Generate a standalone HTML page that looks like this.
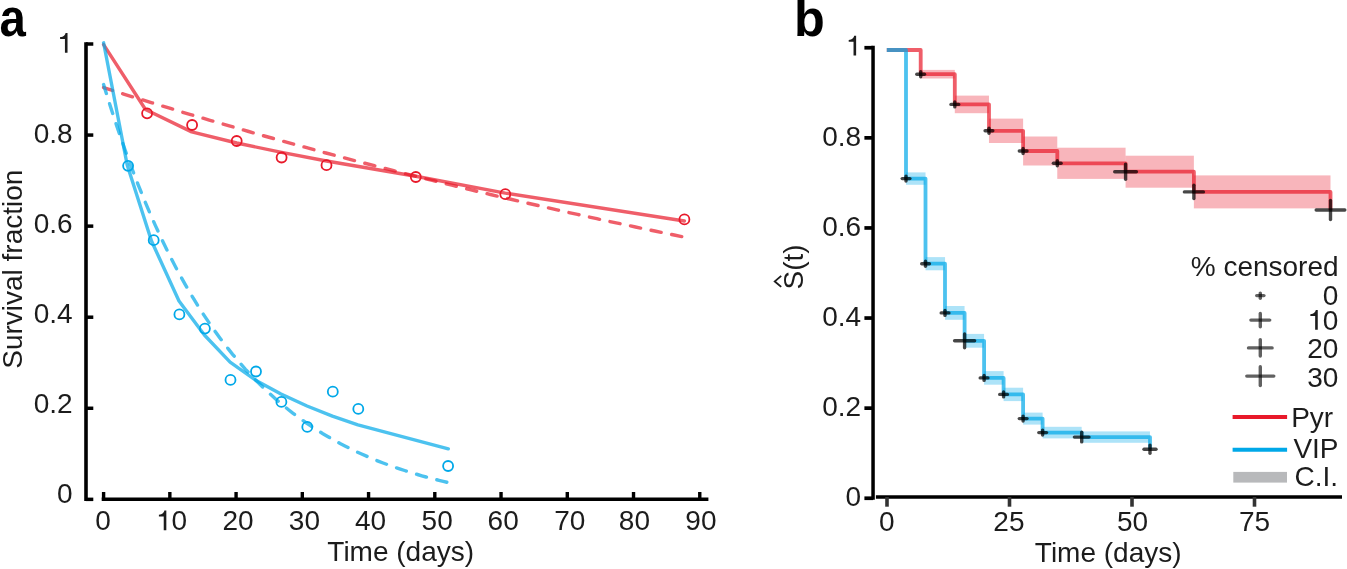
<!DOCTYPE html>
<html><head><meta charset="utf-8"><style>
html,body{margin:0;padding:0;background:#fff;}
svg{display:block;will-change:transform;}
text{font-family:"Liberation Sans",sans-serif;}
</style></head><body>
<svg width="1347" height="569" viewBox="0 0 1347 569">
<rect width="1347" height="569" fill="#fff"/>
<text transform="translate(-0.4,36) scale(0.91,1)" font-size="52" font-weight="bold" fill="#000">a</text>
<line x1="86.0" y1="42.2" x2="86.0" y2="501.1" stroke="#000" stroke-width="3.6" />
<line x1="86.0" y1="44.0" x2="93.3" y2="44.0" stroke="#000" stroke-width="3.5" />
<line x1="86.0" y1="135.07" x2="93.3" y2="135.07" stroke="#000" stroke-width="3.5" />
<line x1="86.0" y1="226.14" x2="93.3" y2="226.14" stroke="#000" stroke-width="3.5" />
<line x1="86.0" y1="317.21" x2="93.3" y2="317.21" stroke="#000" stroke-width="3.5" />
<line x1="86.0" y1="408.28" x2="93.3" y2="408.28" stroke="#000" stroke-width="3.5" />
<line x1="86.0" y1="499.34999999999997" x2="93.3" y2="499.34999999999997" stroke="#000" stroke-width="3.5" />
<path d="M67.53,52.70V32.90H65.57C65.15,34.78 63.75,36.88 60.11,37.10V38.98H64.93V52.70Z" fill="#1c1c1c"/>
<text x="72.6" y="142.76" font-size="28" text-anchor="end" fill="#1c1c1c" >0.8</text>
<text x="72.6" y="232.82" font-size="28" text-anchor="end" fill="#1c1c1c" >0.6</text>
<text x="72.6" y="322.88" font-size="28" text-anchor="end" fill="#1c1c1c" >0.4</text>
<text x="72.6" y="412.94" font-size="28" text-anchor="end" fill="#1c1c1c" >0.2</text>
<text x="72.6" y="503.0" font-size="28" text-anchor="end" fill="#1c1c1c" >0</text>
<line x1="101.7" y1="499.35" x2="708.4" y2="499.35" stroke="#000" stroke-width="3.5" />
<line x1="103.6" y1="492" x2="103.6" y2="499.35" stroke="#000" stroke-width="3.4" />
<line x1="169.83999999999997" y1="492" x2="169.83999999999997" y2="499.35" stroke="#000" stroke-width="3.4" />
<line x1="236.07999999999998" y1="492" x2="236.07999999999998" y2="499.35" stroke="#000" stroke-width="3.4" />
<line x1="302.31999999999994" y1="492" x2="302.31999999999994" y2="499.35" stroke="#000" stroke-width="3.4" />
<line x1="368.55999999999995" y1="492" x2="368.55999999999995" y2="499.35" stroke="#000" stroke-width="3.4" />
<line x1="434.79999999999995" y1="492" x2="434.79999999999995" y2="499.35" stroke="#000" stroke-width="3.4" />
<line x1="501.03999999999996" y1="492" x2="501.03999999999996" y2="499.35" stroke="#000" stroke-width="3.4" />
<line x1="567.28" y1="492" x2="567.28" y2="499.35" stroke="#000" stroke-width="3.4" />
<line x1="633.52" y1="492" x2="633.52" y2="499.35" stroke="#000" stroke-width="3.4" />
<line x1="699.76" y1="492" x2="699.76" y2="499.35" stroke="#000" stroke-width="3.4" />
<text x="103" y="530.3" font-size="28" text-anchor="middle" fill="#1c1c1c" >0</text>
<path d="M166.33,530.30V510.50H164.37C163.95,512.38 162.55,514.48 158.91,514.70V516.58H163.73V530.30Z" fill="#1c1c1c"/>
<text x="171.40" y="530.3" font-size="28" fill="#1c1c1c">0</text>
<text x="238" y="530.3" font-size="28" text-anchor="middle" fill="#1c1c1c" >20</text>
<text x="304.4" y="530.3" font-size="28" text-anchor="middle" fill="#1c1c1c" >30</text>
<text x="370.5" y="530.3" font-size="28" text-anchor="middle" fill="#1c1c1c" >40</text>
<text x="437.2" y="530.3" font-size="28" text-anchor="middle" fill="#1c1c1c" >50</text>
<text x="503.2" y="530.3" font-size="28" text-anchor="middle" fill="#1c1c1c" >60</text>
<text x="569.8" y="530.3" font-size="28" text-anchor="middle" fill="#1c1c1c" >70</text>
<text x="634.4" y="530.3" font-size="28" text-anchor="middle" fill="#1c1c1c" >80</text>
<text x="700.9" y="530.3" font-size="28" text-anchor="middle" fill="#1c1c1c" >90</text>
<text x="400.7" y="561.1" font-size="28" text-anchor="middle" fill="#1c1c1c" >Time (days)</text>
<text transform="translate(22.4,269.2) rotate(-90)" font-size="28" text-anchor="middle" fill="#1c1c1c">Survival fraction</text>
<polyline points="103.6,44.6 145.5,109.5 191.7,131.9 236.7,143.0 281.6,152.4 326.5,161.0 415.8,176.3 505.3,193.1 684.4,221.0" fill="none" stroke="#e8192a" stroke-width="3.4" stroke-opacity="0.7" stroke-linejoin="round" stroke-linecap="round"/>
<polyline points="103.6,87.6 113.3,90.7 122.9,93.8 132.6,96.8 142.3,99.8 152.0,102.8 161.6,105.8 171.3,108.7 181.0,111.7 190.6,114.6 200.3,117.4 210.0,120.3 219.7,123.1 229.3,125.9 239.0,128.7 248.7,131.5 258.3,134.3 268.0,137.0 277.7,139.7 287.3,142.4 297.0,145.1 306.7,147.7 316.4,150.4 326.0,153.0 335.7,155.6 345.4,158.1 355.0,160.7 364.7,163.2 374.4,165.7 384.1,168.2 393.7,170.7 403.4,173.2 413.1,175.6 422.7,178.0 432.4,180.4 442.1,182.8 451.8,185.2 461.4,187.5 471.1,189.9 480.8,192.2 490.4,194.5 500.1,196.8 509.8,199.0 519.5,201.3 529.1,203.5 538.8,205.7 548.5,207.9 558.1,210.1 567.8,212.3 577.5,214.4 587.2,216.6 596.8,218.7 606.5,220.8 616.2,222.9 625.8,224.9 635.5,227.0 645.2,229.0 654.8,231.0 664.5,233.0 674.2,235.0 683.9,237.0" fill="none" stroke="#e8192a" stroke-width="3.4" stroke-opacity="0.7" stroke-dasharray="10.3 10.7" stroke-dashoffset="1" stroke-linecap="round"/>
<polyline points="103.6,42.8 127.2,165.0 151.5,241.0 179.0,301.0 204.4,335.0 230.1,362.1 255.6,380.2 281.0,394.0 307.0,406.0 332.4,416.1 357.9,424.9 448.3,448.8" fill="none" stroke="#00a8e8" stroke-width="3.4" stroke-opacity="0.7" stroke-linejoin="round" stroke-linecap="round"/>
<polyline points="103.6,84.6 107.9,98.5 112.2,112.0 116.5,125.1 120.8,137.7 125.1,150.0 129.4,161.8 133.7,173.2 138.0,184.3 142.3,195.0 146.6,205.4 150.9,215.4 155.2,225.1 159.5,234.4 163.8,243.5 168.1,252.3 172.4,260.8 176.7,269.0 181.0,276.9 185.3,284.6 189.6,292.0 193.9,299.2 198.2,306.2 202.5,312.9 206.8,319.4 211.1,325.7 215.4,331.8 219.7,337.7 224.0,343.4 228.3,348.9 232.6,354.3 236.9,359.4 241.2,364.4 245.5,369.3 249.8,373.9 254.1,378.5 258.4,382.8 262.7,387.1 267.0,391.2 271.3,395.1 275.6,398.9 279.9,402.7 284.2,406.2 288.5,409.7 292.8,413.1 297.1,416.3 301.4,419.4 305.7,422.5 310.0,425.4 314.3,428.3 318.6,431.0 322.9,433.7 327.2,436.2 331.5,438.7 335.8,441.1 340.1,443.5 344.4,445.7 348.7,447.9 353.0,450.0 357.3,452.1 361.6,454.0 365.9,455.9 370.2,457.8 374.5,459.6 378.8,461.3 383.1,463.0 387.4,464.6 391.7,466.1 396.0,467.7 400.3,469.1 404.6,470.5 408.9,471.9 413.2,473.2 417.5,474.5 421.8,475.8 426.1,477.0 430.4,478.1 434.7,479.2 439.0,480.3 443.3,481.4 447.6,482.4" fill="none" stroke="#00a8e8" stroke-width="3.4" stroke-opacity="0.7" stroke-dasharray="10.3 10.7" stroke-dashoffset="1" stroke-linecap="round"/>
<circle cx="147.1" cy="113.3" r="5" fill="none" stroke="#e8192a" stroke-width="1.8"/>
<circle cx="192.1" cy="125" r="5" fill="none" stroke="#e8192a" stroke-width="1.8"/>
<circle cx="236.7" cy="141" r="5" fill="none" stroke="#e8192a" stroke-width="1.8"/>
<circle cx="281.6" cy="157.5" r="5" fill="none" stroke="#e8192a" stroke-width="1.8"/>
<circle cx="326.5" cy="165.2" r="5" fill="none" stroke="#e8192a" stroke-width="1.8"/>
<circle cx="415.8" cy="177" r="5" fill="none" stroke="#e8192a" stroke-width="1.8"/>
<circle cx="505.3" cy="194.2" r="5" fill="none" stroke="#e8192a" stroke-width="1.8"/>
<circle cx="684.4" cy="219.4" r="5" fill="none" stroke="#e8192a" stroke-width="1.8"/>
<circle cx="128.1" cy="165.8" r="5" fill="none" stroke="#00a8e8" stroke-width="1.8"/>
<circle cx="153.7" cy="240.2" r="5" fill="none" stroke="#00a8e8" stroke-width="1.8"/>
<circle cx="179.4" cy="314.4" r="5" fill="none" stroke="#00a8e8" stroke-width="1.8"/>
<circle cx="204.9" cy="328.6" r="5" fill="none" stroke="#00a8e8" stroke-width="1.8"/>
<circle cx="230.5" cy="379.9" r="5" fill="none" stroke="#00a8e8" stroke-width="1.8"/>
<circle cx="256.0" cy="371.5" r="5" fill="none" stroke="#00a8e8" stroke-width="1.8"/>
<circle cx="281.4" cy="401.9" r="5" fill="none" stroke="#00a8e8" stroke-width="1.8"/>
<circle cx="307.3" cy="426.9" r="5" fill="none" stroke="#00a8e8" stroke-width="1.8"/>
<circle cx="332.8" cy="391.7" r="5" fill="none" stroke="#00a8e8" stroke-width="1.8"/>
<circle cx="358.3" cy="408.9" r="5" fill="none" stroke="#00a8e8" stroke-width="1.8"/>
<circle cx="448.1" cy="466.0" r="5" fill="none" stroke="#00a8e8" stroke-width="1.8"/>
<text transform="translate(794,36.3) scale(0.97,0.99)" font-size="52" font-weight="bold" fill="#000">b</text>
<line x1="873.05" y1="45.8" x2="873.05" y2="499.8" stroke="#000" stroke-width="3.5" />
<line x1="864.4" y1="47.75" x2="873.05" y2="47.75" stroke="#000" stroke-width="3.7" />
<line x1="864.4" y1="137.85" x2="873.05" y2="137.85" stroke="#000" stroke-width="3.7" />
<line x1="864.4" y1="227.95" x2="873.05" y2="227.95" stroke="#000" stroke-width="3.7" />
<line x1="864.4" y1="318.04999999999995" x2="873.05" y2="318.04999999999995" stroke="#000" stroke-width="3.7" />
<line x1="864.4" y1="408.15" x2="873.05" y2="408.15" stroke="#000" stroke-width="3.7" />
<line x1="864.4" y1="498.25" x2="873.05" y2="498.25" stroke="#000" stroke-width="3.7" />
<path d="M856.13,55.50V35.70H854.17C853.75,37.58 852.35,39.68 848.71,39.90V41.78H853.53V55.50Z" fill="#1c1c1c"/>
<text x="861.2" y="145.6" font-size="28" text-anchor="end" fill="#1c1c1c" >0.8</text>
<text x="861.2" y="235.7" font-size="28" text-anchor="end" fill="#1c1c1c" >0.6</text>
<text x="861.2" y="325.79999999999995" font-size="28" text-anchor="end" fill="#1c1c1c" >0.4</text>
<text x="861.2" y="415.9" font-size="28" text-anchor="end" fill="#1c1c1c" >0.2</text>
<text x="861.2" y="506.0" font-size="28" text-anchor="end" fill="#1c1c1c" >0</text>
<line x1="875.9" y1="497" x2="1342" y2="497" stroke="#000" stroke-width="3.5" />
<line x1="887.0" y1="497" x2="887.0" y2="506.7" stroke="#333" stroke-width="3.6" />
<line x1="1009.5" y1="497" x2="1009.5" y2="506.7" stroke="#333" stroke-width="3.6" />
<line x1="1132.0" y1="497" x2="1132.0" y2="506.7" stroke="#333" stroke-width="3.6" />
<line x1="1254.5" y1="497" x2="1254.5" y2="506.7" stroke="#333" stroke-width="3.6" />
<text x="886.8" y="530.7" font-size="28" text-anchor="middle" fill="#1c1c1c" >0</text>
<text x="1008.9" y="530.7" font-size="28" text-anchor="middle" fill="#1c1c1c" >25</text>
<text x="1132.5" y="530.7" font-size="28" text-anchor="middle" fill="#1c1c1c" >50</text>
<text x="1254.5" y="530.7" font-size="28" text-anchor="middle" fill="#1c1c1c" >75</text>
<text x="1108.2" y="562.3" font-size="28" text-anchor="middle" fill="#1c1c1c" >Time (days)</text>
<text transform="translate(802.6,267) rotate(-90)" font-size="28" text-anchor="middle" fill="#1c1c1c">S(t)</text>
<path d="M781.2,275.9 L774.8,281.4 L781.2,286.9" fill="none" stroke="#1c1c1c" stroke-width="1.9"/>
<rect x="920.653" y="69.9" width="34.15300000000002" height="8.6" fill="#e8192a" fill-opacity="0.32"/>
<rect x="954.806" y="95.60000000000001" width="34.152999999999906" height="17.6" fill="#e8192a" fill-opacity="0.32"/>
<rect x="988.959" y="118.60000000000001" width="34.15300000000002" height="24.4" fill="#e8192a" fill-opacity="0.32"/>
<rect x="1023.112" y="136.5" width="34.152999999999906" height="29.0" fill="#e8192a" fill-opacity="0.32"/>
<rect x="1057.2649999999999" y="147.70000000000002" width="68.30600000000004" height="31.2" fill="#e8192a" fill-opacity="0.32"/>
<rect x="1125.571" y="155.7" width="68.30600000000004" height="32" fill="#e8192a" fill-opacity="0.32"/>
<rect x="1193.877" y="175.4" width="136.61200000000008" height="33.0" fill="#e8192a" fill-opacity="0.32"/>
<rect x="906.016" y="172.4" width="19.516000000000076" height="12.4" fill="#00a8e8" fill-opacity="0.32"/>
<rect x="925.532" y="257.09999999999997" width="19.515999999999963" height="13.2" fill="#00a8e8" fill-opacity="0.32"/>
<rect x="945.048" y="306.0" width="19.515999999999963" height="13.8" fill="#00a8e8" fill-opacity="0.32"/>
<rect x="964.564" y="333.90000000000003" width="19.515999999999963" height="13.8" fill="#00a8e8" fill-opacity="0.32"/>
<rect x="984.0799999999999" y="371.09999999999997" width="19.516000000000076" height="13.6" fill="#00a8e8" fill-opacity="0.32"/>
<rect x="1003.596" y="387.7" width="19.515999999999963" height="13.4" fill="#00a8e8" fill-opacity="0.32"/>
<rect x="1023.112" y="412.6" width="19.515999999999963" height="12" fill="#00a8e8" fill-opacity="0.32"/>
<rect x="1042.628" y="426.8" width="39.031999999999925" height="11.6" fill="#00a8e8" fill-opacity="0.32"/>
<rect x="1081.6599999999999" y="431.40000000000003" width="68.30600000000004" height="11.4" fill="#00a8e8" fill-opacity="0.32"/>
<polyline points="886.8,50.0 920.7,50.0 920.7,74.2 954.8,74.2 954.8,104.4 989.0,104.4 989.0,130.8 1023.1,130.8 1023.1,151.0 1057.3,151.0 1057.3,163.3 1125.6,163.3 1125.6,171.7 1193.9,171.7 1193.9,191.9 1330.5,191.9 1330.5,210.0" fill="none" stroke="#e8192a" stroke-width="3.8" stroke-opacity="0.7" stroke-linejoin="round"/>
<polyline points="886.8,50.0 906.0,50.0 906.0,178.6 925.5,178.6 925.5,263.7 945.0,263.7 945.0,312.9 964.6,312.9 964.6,340.8 984.1,340.8 984.1,377.9 1003.6,377.9 1003.6,394.4 1023.1,394.4 1023.1,418.6 1042.6,418.6 1042.6,432.6 1081.7,432.6 1081.7,437.1 1150.0,437.1 1150.0,449.2" fill="none" stroke="#00a8e8" stroke-width="3.8" stroke-opacity="0.7" stroke-linejoin="round"/>
<path d="M916.8,74.2H924.5" stroke="#000" stroke-opacity="0.72" stroke-width="3.4" stroke-linecap="round" fill="none"/>
<path d="M920.7,71.7V76.7" stroke="#000" stroke-opacity="0.72" stroke-width="3.4" stroke-linecap="round" fill="none"/>
<path d="M951.0,104.4H958.7" stroke="#000" stroke-opacity="0.72" stroke-width="3.4" stroke-linecap="round" fill="none"/>
<path d="M954.8,101.9V106.9" stroke="#000" stroke-opacity="0.72" stroke-width="3.4" stroke-linecap="round" fill="none"/>
<path d="M985.1,130.8H992.8" stroke="#000" stroke-opacity="0.72" stroke-width="3.4" stroke-linecap="round" fill="none"/>
<path d="M989.0,128.3V133.3" stroke="#000" stroke-opacity="0.72" stroke-width="3.4" stroke-linecap="round" fill="none"/>
<path d="M1019.3,151H1027.0" stroke="#000" stroke-opacity="0.72" stroke-width="3.4" stroke-linecap="round" fill="none"/>
<path d="M1023.1,148.5V153.5" stroke="#000" stroke-opacity="0.72" stroke-width="3.4" stroke-linecap="round" fill="none"/>
<path d="M1053.4,163.3H1061.1" stroke="#000" stroke-opacity="0.72" stroke-width="3.4" stroke-linecap="round" fill="none"/>
<path d="M1057.3,160.8V165.8" stroke="#000" stroke-opacity="0.72" stroke-width="3.4" stroke-linecap="round" fill="none"/>
<path d="M1114.7,171.7H1136.4" stroke="#000" stroke-opacity="0.72" stroke-width="3.4" stroke-linecap="round" fill="none"/>
<path d="M1125.6,164.1V179.3" stroke="#000" stroke-opacity="0.72" stroke-width="3.4" stroke-linecap="round" fill="none"/>
<path d="M1184.4,191.9H1203.4" stroke="#000" stroke-opacity="0.72" stroke-width="3.4" stroke-linecap="round" fill="none"/>
<path d="M1193.9,185.2V198.6" stroke="#000" stroke-opacity="0.72" stroke-width="3.4" stroke-linecap="round" fill="none"/>
<path d="M1316.2,210H1344.8" stroke="#000" stroke-opacity="0.72" stroke-width="3.4" stroke-linecap="round" fill="none"/>
<path d="M1330.5,200.5V219.5" stroke="#000" stroke-opacity="0.72" stroke-width="3.4" stroke-linecap="round" fill="none"/>
<path d="M902.2,178.6H909.9" stroke="#000" stroke-opacity="0.72" stroke-width="3.4" stroke-linecap="round" fill="none"/>
<path d="M906.0,176.1V181.1" stroke="#000" stroke-opacity="0.72" stroke-width="3.4" stroke-linecap="round" fill="none"/>
<path d="M921.7,263.7H929.4" stroke="#000" stroke-opacity="0.72" stroke-width="3.4" stroke-linecap="round" fill="none"/>
<path d="M925.5,261.2V266.2" stroke="#000" stroke-opacity="0.72" stroke-width="3.4" stroke-linecap="round" fill="none"/>
<path d="M941.2,312.9H948.9" stroke="#000" stroke-opacity="0.72" stroke-width="3.4" stroke-linecap="round" fill="none"/>
<path d="M945.0,310.4V315.4" stroke="#000" stroke-opacity="0.72" stroke-width="3.4" stroke-linecap="round" fill="none"/>
<path d="M954.6,340.8H974.6" stroke="#000" stroke-opacity="0.72" stroke-width="3.4" stroke-linecap="round" fill="none"/>
<path d="M964.6,333.9V347.7" stroke="#000" stroke-opacity="0.72" stroke-width="3.4" stroke-linecap="round" fill="none"/>
<path d="M980.2,377.9H987.9" stroke="#000" stroke-opacity="0.72" stroke-width="3.4" stroke-linecap="round" fill="none"/>
<path d="M984.1,375.4V380.4" stroke="#000" stroke-opacity="0.72" stroke-width="3.4" stroke-linecap="round" fill="none"/>
<path d="M999.7,394.4H1007.4" stroke="#000" stroke-opacity="0.72" stroke-width="3.4" stroke-linecap="round" fill="none"/>
<path d="M1003.6,391.9V396.9" stroke="#000" stroke-opacity="0.72" stroke-width="3.4" stroke-linecap="round" fill="none"/>
<path d="M1019.3,418.6H1027.0" stroke="#000" stroke-opacity="0.72" stroke-width="3.4" stroke-linecap="round" fill="none"/>
<path d="M1023.1,416.1V421.1" stroke="#000" stroke-opacity="0.72" stroke-width="3.4" stroke-linecap="round" fill="none"/>
<path d="M1038.8,432.6H1046.5" stroke="#000" stroke-opacity="0.72" stroke-width="3.4" stroke-linecap="round" fill="none"/>
<path d="M1042.6,430.1V435.1" stroke="#000" stroke-opacity="0.72" stroke-width="3.4" stroke-linecap="round" fill="none"/>
<path d="M1074.4,437.1H1089.0" stroke="#000" stroke-opacity="0.72" stroke-width="3.4" stroke-linecap="round" fill="none"/>
<path d="M1081.7,432.3V441.9" stroke="#000" stroke-opacity="0.72" stroke-width="3.4" stroke-linecap="round" fill="none"/>
<path d="M1144.0,449.2H1156.0" stroke="#000" stroke-opacity="0.72" stroke-width="3.4" stroke-linecap="round" fill="none"/>
<path d="M1150.0,445.1V453.3" stroke="#000" stroke-opacity="0.72" stroke-width="3.4" stroke-linecap="round" fill="none"/>
<text x="1338.6" y="275.5" font-size="28" text-anchor="end" fill="#1c1c1c" >% censored</text>
<path d="M1256.7,295.6H1263.9" stroke="#000" stroke-opacity="0.62" stroke-width="3.4" stroke-linecap="round" fill="none"/>
<path d="M1260.3,293.1V298.2" stroke="#000" stroke-opacity="0.62" stroke-width="3.4" stroke-linecap="round" fill="none"/>
<text x="1338.4" y="304.5" font-size="28" text-anchor="end" fill="#1c1c1c" >0</text>
<path d="M1250.9,320.1H1269.7" stroke="#000" stroke-opacity="0.62" stroke-width="3.4" stroke-linecap="round" fill="none"/>
<path d="M1260.3,313.4V326.8" stroke="#000" stroke-opacity="0.62" stroke-width="3.4" stroke-linecap="round" fill="none"/>
<path d="M1317.76,329.80V310.00H1315.80C1315.38,311.88 1313.98,313.98 1310.34,314.20V316.08H1315.16V329.80Z" fill="#1c1c1c"/>
<text x="1322.83" y="329.8" font-size="28" fill="#1c1c1c">0</text>
<path d="M1248.5,347.9H1272.1" stroke="#000" stroke-opacity="0.62" stroke-width="3.4" stroke-linecap="round" fill="none"/>
<path d="M1260.3,339.6V356.1" stroke="#000" stroke-opacity="0.62" stroke-width="3.4" stroke-linecap="round" fill="none"/>
<text x="1338.4" y="358" font-size="28" text-anchor="end" fill="#1c1c1c" >20</text>
<path d="M1246.8,376.1H1273.8" stroke="#000" stroke-opacity="0.62" stroke-width="3.4" stroke-linecap="round" fill="none"/>
<path d="M1260.3,366.7V385.5" stroke="#000" stroke-opacity="0.62" stroke-width="3.4" stroke-linecap="round" fill="none"/>
<text x="1338.4" y="387.4" font-size="28" text-anchor="end" fill="#1c1c1c" >30</text>
<line x1="1232.6" y1="416.9" x2="1287.1" y2="416.9" stroke="#e8192a" stroke-width="4" />
<text x="1291.2" y="426.6" font-size="28" text-anchor="start" fill="#1c1c1c" >Pyr</text>
<line x1="1232.6" y1="449.7" x2="1287.1" y2="449.7" stroke="#00a8e8" stroke-width="4" />
<text x="1293.4" y="458.2" font-size="28" text-anchor="start" fill="#1c1c1c" >VIP</text>
<rect x="1233.3" y="471.9" width="53.7" height="10.7" fill="#b8b9bb"/>
<text x="1294.5" y="486.4" font-size="28" text-anchor="start" fill="#1c1c1c" >C.I.</text>
</svg>
</body></html>
